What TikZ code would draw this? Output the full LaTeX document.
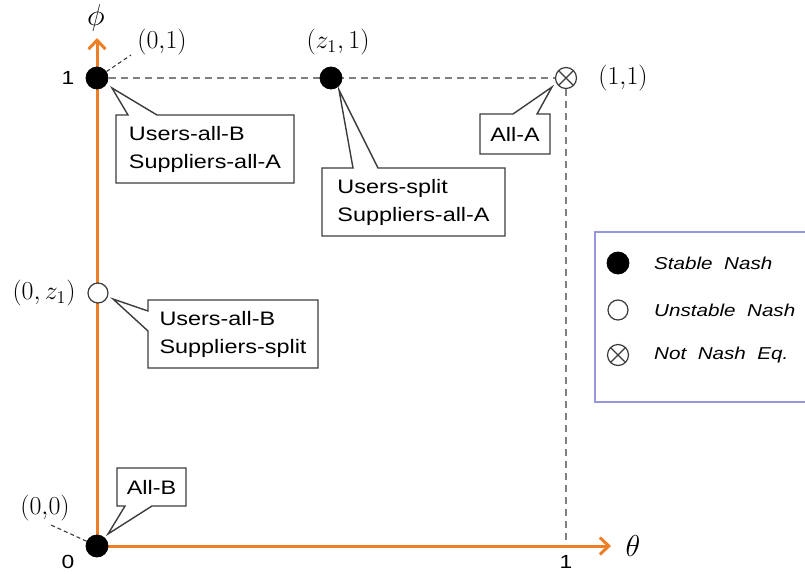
\documentclass[tikz,border=0pt]{standalone}
\usepackage{fontspec}
\usepackage{graphicx}
\usetikzlibrary{arrows.meta}
\newfontfamily\boxfont[FakeStretch=1.2]{Liberation Sans}
\definecolor{axisorange}{RGB}{237,128,38}
\definecolor{dashgray}{RGB}{128,128,128}
\definecolor{edgegray}{RGB}{60,60,60}
\definecolor{legendblue}{RGB}{150,150,220}
\newcommand{\mylbl}[1]{\scalebox{1.5}{$#1$}}
\newcommand{\myaxlbl}[1]{\scalebox{1.75}{$#1$}}
\begin{document}
\begin{tikzpicture}[x=1pt,y=-1pt,
  axis/.style={draw=axisorange,line width=3pt,-{Straight Barb[length=9pt,width=17pt,line width=3pt]}},
  guide/.style={draw=dashgray,line width=1.4pt,dash pattern=on 7pt off 5pt},
  leader/.style={draw=edgegray,line width=1.1pt,dash pattern=on 4pt off 3pt},
  stable/.style={circle,fill=black,draw=black,line width=0.8pt,minimum size=22pt,inner sep=0pt},
  unstable/.style={circle,fill=white,draw=edgegray,line width=1.2pt,minimum size=20pt,inner sep=0pt},
  notnash/.style={circle,fill=white,draw=edgegray,line width=1.2pt,minimum size=21pt,inner sep=0pt,
    path picture={\draw[edgegray,line width=1.2pt]
      (path picture bounding box.north west) -- (path picture bounding box.south east)
      (path picture bounding box.north east) -- (path picture bounding box.south west);}},
  callout/.style={draw=edgegray,line width=1.4pt,fill=white,line join=miter},
  boxtext/.style={font=\boxfont\fontsize{19.5}{28}\selectfont,align=left,inner sep=0pt},
  mathlbl/.style={font=\fontsize{17}{20}\selectfont,inner sep=0pt},
  ticklbl/.style={font=\boxfont\fontsize{19}{22}\selectfont,inner sep=0pt},
  legtext/.style={font=\boxfont\itshape\fontsize{17.2}{22}\selectfont,anchor=west,inner sep=0pt}
]
\useasboundingbox (0,0) rectangle (805,573);

% guides
\coordinate (O) at (97,546);
\coordinate (xtip) at (611,546);
\coordinate (ytip) at (97,38);
\coordinate (x1) at (566,546);

\node[notnash] (p11) at (566,78) {};
\draw[guide] (97,78) -- (p11.west);
\draw[guide] (p11.south) -- (x1);

% axes
\draw[axis] (O) -- (xtip);
\draw[axis] (O) -- (ytip);

% points
\node[stable] (p01) at (97,78) {};
\node[stable] (pz1) at (331,78) {};
\node[unstable] (p0z) at (98,293) {};
\node[stable] (p00) at (97,546) {};

% axis labels
\node[mathlbl] (phi) at (96,18) {\myaxlbl{\phi}};
\node[mathlbl] (theta) at (633,546) {\myaxlbl{\theta}};
\node[ticklbl] (t1y) at (68,78) {1};
\node[ticklbl] (t0) at (68,562) {0};
\node[ticklbl] (t1x) at (566,562) {1};

% coordinate labels
\node[mathlbl] (l01) at (162,42) {\mylbl{(0{,}1)}};
\coordinate (c01) at (131,55);
\draw[leader] (p01) -- (c01);
\node[mathlbl] (lz1) at (338,42) {\mylbl{(z_1{,}\,1)}};
\node[mathlbl] (l11) at (623,78) {\mylbl{(1{,}1)}};
\node[mathlbl] (l0z) at (44,293) {\mylbl{(0{,}\,z_1)}};
\node[mathlbl] (l00) at (45,508) {\mylbl{(0{,}0)}};
\coordinate (c00) at (51,525);
\draw[leader] (p00) -- (c00);

% callouts
\coordinate (tip1) at (112,88);
\draw[callout] (116,115) -- (128,115) -- (tip1) -- (157,115) -- (294,115) -- (294,183) -- (116,183) -- cycle;
\node[boxtext] (b1) at (205,149) {Users-all-B\\Suppliers-all-A};

\coordinate (tip2) at (339,90);
\draw[callout] (322,168) -- (353,168) -- (tip2) -- (378,168) -- (505,168) -- (505,236) -- (322,236) -- cycle;
\node[boxtext] (b2) at (413.5,202) {Users-split\\Suppliers-all-A};

\coordinate (tip3) at (552,87);
\draw[callout] (480,114) -- (513,114) -- (tip3) -- (537,114) -- (550,114) -- (550,154) -- (480,154) -- cycle;
\node[boxtext] (b3) at (515,134) {All-A};

\coordinate (tip4) at (113,299);
\draw[callout] (148,300) -- (318,300) -- (318,368) -- (148,368) -- (148,331) -- (tip4) -- (148,311) -- cycle;
\node[boxtext] (b4) at (233,334) {Users-all-B\\Suppliers-split};

\coordinate (tip5) at (108,534);
\draw[callout] (117,468) -- (186,468) -- (186,506) -- (152,506) -- (tip5) -- (125,506) -- (117,506) -- cycle;
\node[boxtext] (b5) at (151.5,487) {All-B};

% legend
\draw[draw=legendblue,line width=1.5pt] (805,232) -- (595,232) -- (595,402) -- (805,402);
\node[stable] (k1) at (618,263) {};
\node[legtext] (k1t) at (654,263) {Stable\ \ Nash};
\node[unstable] (k2) at (618,310) {};
\node[legtext] (k2t) at (654,310) {Unstable\ \ Nash};
\node[notnash] (k3) at (618,355) {};
\node[legtext] (k3t) at (654,355) {Not\ \ Nash\ \ Eq.};
\end{tikzpicture}
\end{document}
